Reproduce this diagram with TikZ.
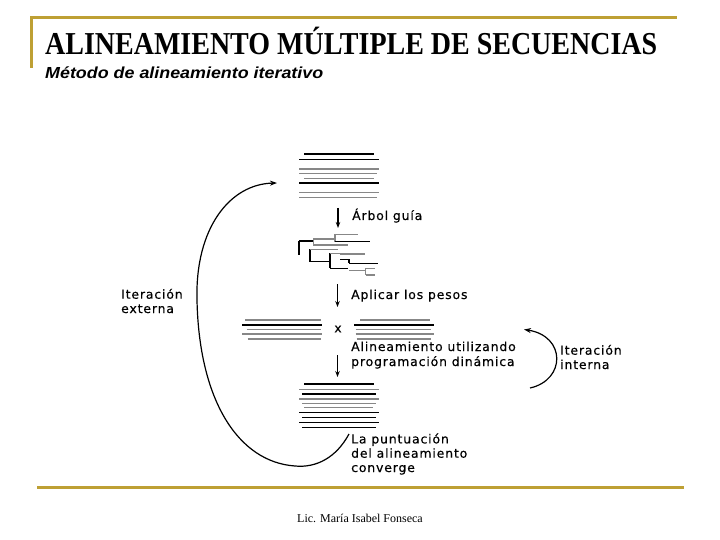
\documentclass[tikz,border=0pt]{standalone}
\usepackage{fontspec}
\setmainfont{Liberation Serif}
\newfontfamily\labf[LetterSpace=7,FakeBold=0.4]{DejaVu Sans}
\newfontfamily\subf{Liberation Sans}
\usetikzlibrary{arrows.meta}
\definecolor{gold}{RGB}{190,160,52}
\definecolor{seqgray}{RGB}{135,135,135}
\tikzset{
  lab/.style={font=\labf\fontsize{12.4}{14.3}\selectfont, inner sep=0pt, anchor=base west, align=left},
  bk/.style={black, line width=1.1pt},
  bkt/.style={black, line width=2.2pt},
  gy/.style={seqgray, line width=1.1pt},
  gyt/.style={seqgray, line width=2.4pt},
  downarrow/.style={black, line width=1.2pt, -{Stealth[length=6pt,width=4.5pt]}},
  loop/.style={black, line width=1.2pt, -{Stealth[length=7pt,width=5pt]}},
  goldline/.style={gold, line width=3pt},
}
\begin{document}
\begin{tikzpicture}[x=1pt,y=-1pt]
\useasboundingbox (0,0) rectangle (720,540);
% frame lines
\draw[goldline] (30,18) -- (677,18);
\draw[goldline] (31.5,18) -- (31.5,68);
\draw[goldline] (37,487) -- (684,487);
% titles
\node[anchor=base west, inner sep=0pt, font=\bfseries\fontsize{29}{32}\selectfont] (title) at (45,55) {\resizebox{612pt}{1.1\height}{ALINEAMIENTO MÚLTIPLE DE SECUENCIAS}};
\node[anchor=base west, inner sep=0pt, font=\subf\bfseries\itshape\fontsize{16}{18}\selectfont] (subtitle) at (45,79) {\resizebox{278pt}{\height}{Método de alineamiento iterativo}};
\node[anchor=base, inner sep=0pt, font=\fontsize{12}{14}\selectfont] (footer) at (360,522) {Lic. María Isabel Fonseca};

% stack 1
\draw[bk] (304,154) -- (374,154);
\draw[bk, line width=1.5pt] (299,159.3) -- (379,159.3);
\draw[gyt] (299,169) -- (379,169);
\draw[gy] (299,173.5) -- (377,173.5);
\draw[gy, line width=1.2pt] (304,178.5) -- (374,178.5);
\draw[bkt] (299,183) -- (379,183);
\draw[gy, line width=1.2pt] (299,192.3) -- (379,192.3);
\draw[gy, line width=1.2pt] (299,197.3) -- (377,197.3);
\coordinate (a1s) at (338,208);
\coordinate (a1e) at (338,228);
\draw[downarrow] (a1s) -- (a1e);
\node[lab] (arbol) at (352,220) {Árbol guía};

% tree
\begin{scope}[line width=1.1pt]
\draw[black] (299,241) -- (299,255);
\draw[black] (299,241) -- (313.3,241);
\draw[seqgray] (313.3,239) -- (313.3,245);
\draw[seqgray] (313.3,239) -- (335,239);
\draw[seqgray] (335,234.3) -- (335,241.7);
\draw[seqgray] (335,234.3) -- (357.7,234.3);
\draw[black] (335,241.7) -- (370,241.7);
\draw[seqgray] (313.3,245) -- (348.3,245);
\draw[black] (310,249.3) -- (310,261.7);
\draw[seqgray] (310,249.3) -- (337.7,249.3);
\draw[black] (310,261.7) -- (330,261.7);
\draw[black] (330,253.3) -- (330,268.3);
\draw[seqgray] (330,253.3) -- (340,253.3);
\draw[seqgray] (340,254) -- (365,254);
\draw[black] (330,268.3) -- (348.3,268.3);
\draw[black] (340,259.3) -- (349,259.3);
\draw[black] (349,259.3) -- (349,263.3);
\draw[black] (349,263.3) -- (377.7,263.3);
\draw[seqgray] (349,270.7) -- (365.7,270.7);
\draw[seqgray] (365.7,268.3) -- (365.7,275);
\draw[seqgray] (365.7,268.3) -- (375,268.3);
\draw[seqgray] (365.7,275) -- (375,275);
\end{scope}
\coordinate (a2s) at (337.5,284);
\coordinate (a2e) at (337.5,307);
\draw[downarrow] (a2s) -- (a2e);
\node[lab] (pesos) at (351,299) {Aplicar los pesos};

% left and right stacks
\draw[gy] (245,320) -- (321,320);
\draw[bkt] (242.3,325) -- (322.3,325);
\draw[gy] (246.7,329.3) -- (321,329.3);
\draw[gy] (242.3,334) -- (322.3,334);
\draw[gy] (247.7,339) -- (321,339);
\node[font=\labf\fontsize{12.5}{14}\selectfont, inner sep=0pt] (x) at (338,329) {x};
\draw[gy] (360,320) -- (430,320);
\draw[bkt] (354.3,325) -- (434.3,325);
\draw[gy] (355.7,329.3) -- (431,329.3);
\draw[gy] (355.7,334) -- (434.3,334);
\draw[gy] (356.7,339) -- (431,339);

\coordinate (a3s) at (337.5,355);
\coordinate (a3e) at (337.5,377);
\draw[downarrow] (a3s) -- (a3e);
\node[lab, font=\labf\fontsize{12.4}{15}\selectfont] (alin) at (351,366) {Alineamiento utilizando\\programación dinámica};

% bottom stack
\draw[bk] (304,384) -- (374,384);
\draw[gy] (299,389.3) -- (379,389.3);
\draw[bk, line width=1.5pt] (302,394) -- (376,394);
\draw[gyt, line width=2pt] (299,398.7) -- (379,398.7);
\draw[gy] (302,403.3) -- (376,403.3);
\draw[gy] (304,407.7) -- (373,407.7);
\draw[bk, line width=1.5pt] (299,412.7) -- (379,412.7);
\draw[bk] (302,417.3) -- (376,417.3);
\draw[bk, line width=1.3pt] (299,422.3) -- (379,422.3);
\draw[bk] (302,427.3) -- (376,427.3);

\node[lab] (conv) at (351,472) {La puntuación\\del alineamiento\\converge};

% outer loop
\coordinate (o1) at (349,434);
\coordinate (o2) at (295,466);
\coordinate (o3) at (197,300);
\coordinate (o4) at (277,183);
\draw[loop] (o1) .. controls (336,458) and (316,468) .. (o2)
  .. controls (238,462) and (199,400) .. (o3)
  .. controls (195,228) and (230,184) .. (o4);
\node[lab] (ext) at (121,313) {Iteración\\externa};

% inner loop
\coordinate (i1) at (530,388);
\coordinate (i2) at (524,329.5);
\draw[loop] (i1) .. controls (566,380) and (566,336) .. (i2);
\node[lab] (int) at (560,369) {Iteración\\interna};
\end{tikzpicture}
\end{document}
